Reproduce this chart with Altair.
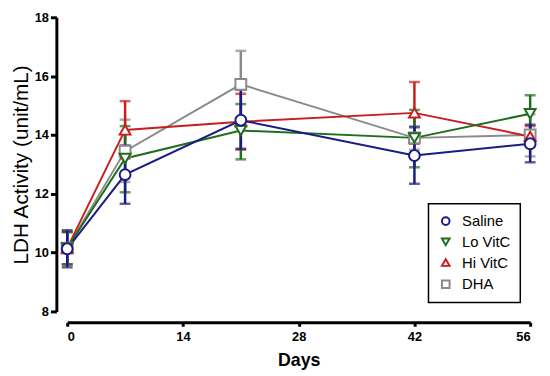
import altair as alt
import pandas as pd

groups = ["Saline", "Lo VitC", "Hi VitC", "DHA"]
colors = ["#1b1b85", "#1e6e1e", "#c81e1e", "#8a8a8a"]
shapes = ["circle", "triangle-down", "triangle-up", "square"]
days = [0, 7, 21, 42, 56]

saline_mean = [10.13, 12.65, 14.50, 13.30, 13.70]
saline_low = [9.50, 11.66, 13.53, 12.34, 13.07]
saline_high = [10.76, 13.64, 15.55, 14.26, 14.35]

lo_mean = [10.15, 13.20, 14.15, 13.90, 14.72]
lo_low = [9.60, 12.05, 13.17, 12.90, 14.10]
lo_high = [10.70, 14.30, 15.05, 14.85, 15.35]

hi_mean = [10.15, 14.17, 14.45, 14.75, 13.95]
hi_low = [9.60, 13.20, 13.50, 13.70, 13.60]
hi_high = [10.70, 15.15, 15.40, 15.80, 14.30]

dha_mean = [10.15, 13.45, 15.72, 13.90, 14.00]
dha_low = [9.60, 12.40, 14.60, 13.50, 13.27]
dha_high = [10.70, 14.52, 16.86, 14.30, 14.70]

series = {
    "Saline": (saline_mean, saline_low, saline_high),
    "Lo VitC": (lo_mean, lo_low, lo_high),
    "Hi VitC": (hi_mean, hi_low, hi_high),
    "DHA": (dha_mean, dha_low, dha_high),
}
draw_order = ["DHA", "Hi VitC", "Lo VitC", "Saline"]

rows = []
for g in draw_order:
    m, lo, hi = series[g]
    for d, a, b, c in zip(days, m, lo, hi):
        rows.append({"group": g, "day": d, "mean": a, "low": b, "high": c})
df = pd.DataFrame(rows)

FONT = "Liberation Sans"

def xenc():
    return alt.X("day:Q", scale=alt.Scale(domain=[0, 56], nice=False, zero=False),
                 axis=alt.Axis(values=[0, 14, 28, 42, 56], title="Days", offset=11,
                               tickSize=4, labelPadding=4, titleFontSize=18,
                               titleFontWeight="bold", titlePadding=9))

def yenc(field):
    return alt.Y(f"{field}:Q", scale=alt.Scale(domain=[8, 18], nice=False, zero=False),
                 axis=alt.Axis(values=[8, 10, 12, 14, 16, 18], title="LDH Activity (unit/mL)",
                               offset=11, tickSize=6, labelPadding=2, titleFontSize=21,
                               titleFontWeight="normal", titlePadding=3))

cmap = dict(zip(groups, colors))
layers = []
for g in draw_order:
    c = cmap[g]
    base = alt.Chart(df).transform_filter(alt.datum.group == g)
    layers.append(base.mark_line(color=c, strokeWidth=2).encode(x=xenc(), y=yenc("mean")))
    layers.append(base.mark_rule(color=c, strokeWidth=2.5).encode(x=xenc(), y=yenc("low"), y2="high:Q"))
    layers.append(base.mark_tick(color=c, orient="horizontal", size=11, thickness=2.5).encode(x=xenc(), y=yenc("low")))
    layers.append(base.mark_tick(color=c, orient="horizontal", size=11, thickness=2.5).encode(x=xenc(), y=yenc("high")))

points = alt.Chart(df).mark_point(filled=False, fill="white", strokeWidth=2, size=120, opacity=1).encode(
    x=xenc(), y=yenc("mean"),
    color=alt.Color("group:N", scale=alt.Scale(domain=groups, range=colors),
                    legend=alt.Legend(title=None, orient="none", legendX=366, legendY=189)),
    shape=alt.Shape("group:N", scale=alt.Scale(domain=groups, range=shapes),
                    legend=alt.Legend(title=None, orient="none", legendX=366, legendY=189)),
)
layers.append(points)

chart = alt.layer(*layers).properties(
    width=469, height=298,
    autosize=alt.AutoSizeParams(type="none"),
    padding={"left": 60, "top": 7, "right": 12, "bottom": 62},
).configure_view(stroke=None).configure_axis(
    grid=False, domainColor="black", domainWidth=3, tickColor="black", tickWidth=3,
    labelFont=FONT, labelFontWeight="bold", labelFontSize=13, labelColor="black",
    titleFont=FONT, titleColor="black",
).configure_legend(
    strokeColor="black", fillColor="white", padding=10, labelFont=FONT, labelFontSize=15,
    labelColor="black", symbolSize=60, symbolStrokeWidth=2, rowPadding=5, labelOffset=9,
    strokeWidth=1.5,
)

chart.save("out.html", embed_options={"renderer": "svg", "actions": False})
